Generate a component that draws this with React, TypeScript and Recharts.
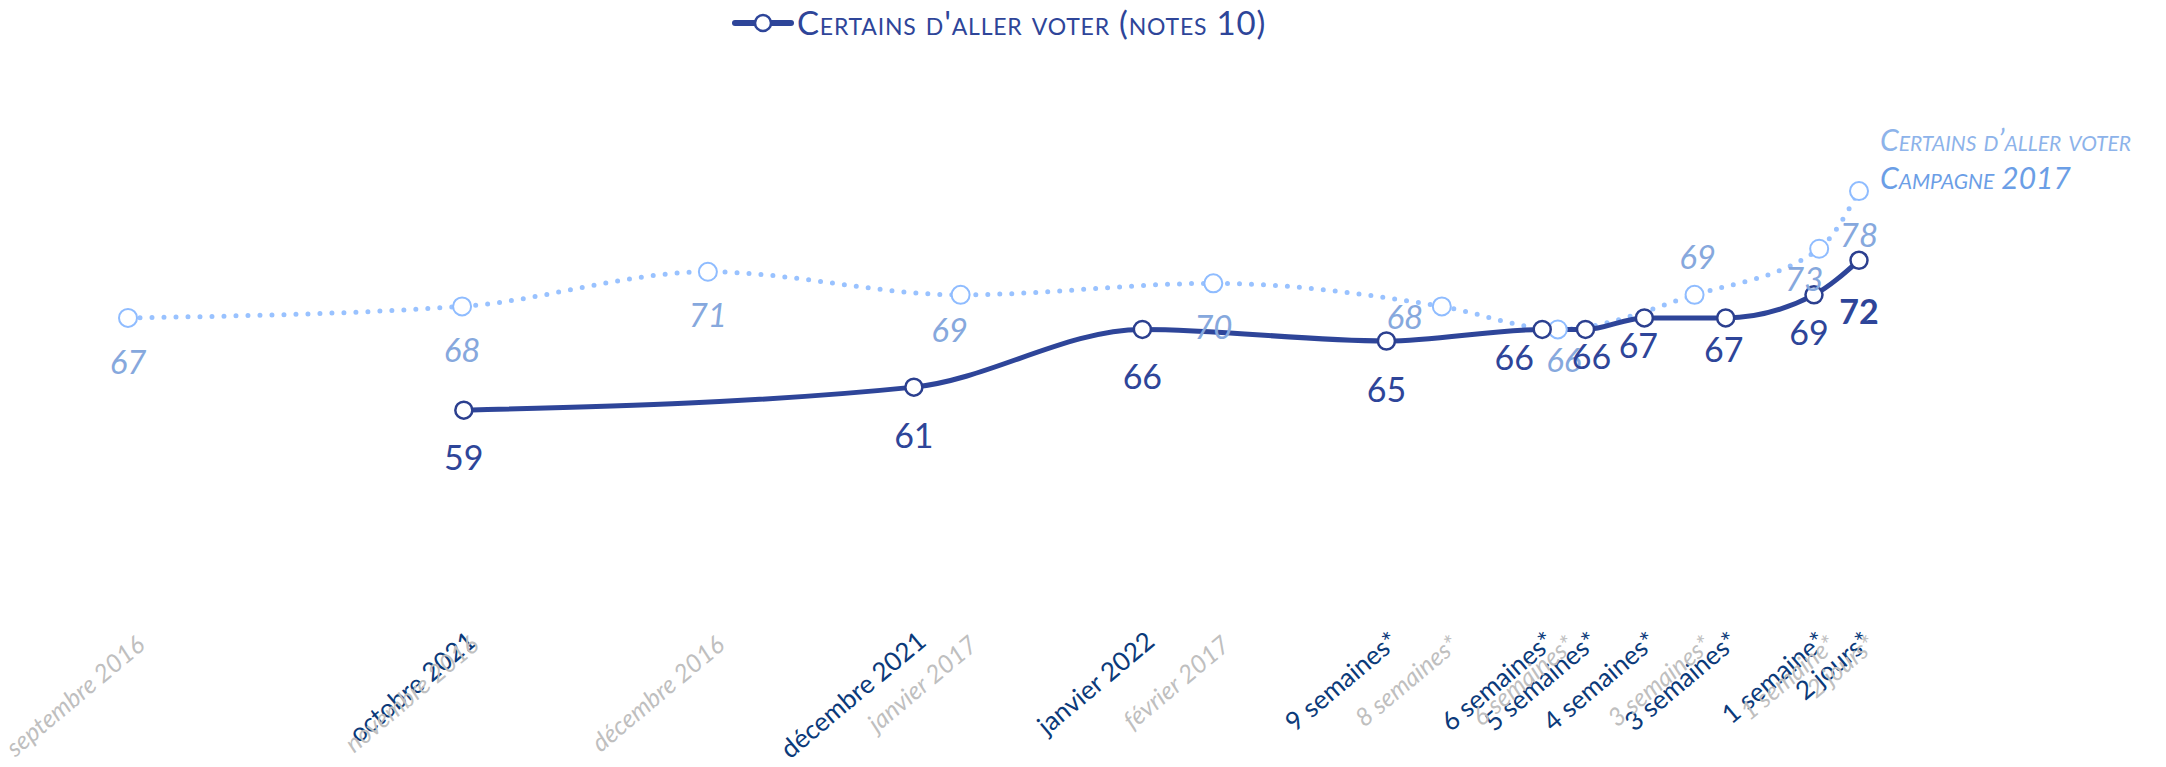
import React from "react";
import { LineChart, Line, XAxis, YAxis, LabelList, Customized } from "recharts";

// campagne 2017 (pointillés clairs)
const lightCategories = [
  "septembre 2016", "novembre 2016", "décembre 2016", "janvier 2017", "février 2017",
  "8 semaines*", "6 semaines*", "3 semaines*", "1 semaine*", "2 jours*",
];
const lightPositions = [0, 19.3, 33.5, 48.1, 62.7, 75.9, 82.6, 90.5, 97.7, 100];
const lightValues = [67, 68, 71, 69, 70, 68, 66, 69, 73, 78];

// campagne 2022 (trait plein)
const darkCategories = [
  "octobre 2021", "décembre 2021", "janvier 2022", "9 semaines*", "6 semaines*",
  "5 semaines*", "4 semaines*", "3 semaines*", "1 semaine*", "2 jours*",
];
const darkPositions = [19.4, 45.4, 58.6, 72.7, 81.7, 84.2, 87.6, 92.3, 97.4, 100];
const darkValues = [59, 61, 66, 65, 66, 66, 67, 67, 69, 72];

const lightData = lightPositions.map((pos, i) => ({ pos, v: lightValues[i] }));
const darkData = darkPositions.map((pos, i) => ({ pos, v: darkValues[i] }));

const FONT = "Lato, 'Open Sans', sans-serif";
const DARK = "#2e4599";
const LIGHT = "#99c2ff";

// label placement tweaks (dx, dy) around each point
const lightLabelOffsets = [
  [0, 43], [0, 43], [0, 42], [-11, 34], [0, 43], [-37, 10], [6, 30], [3, -39], [-15, 29], [0, 43],
];
const darkLabelOffsets = [
  [0, 46], [0, 47], [0, 46], [0, 47], [-28, 27], [6, 26], [-6, 27], [-2, 31], [-5, 37], [0, 50],
];

const pointXY = (p: any) => {
  const vb = p.viewBox || {};
  return { x: p.x ?? vb.x, y: p.y ?? vb.y };
};

const LightLabel = (p: any) => {
  const { x, y } = pointXY(p);
  const [dx, dy] = lightLabelOffsets[p.index] || [0, 43];
  return (
    <text x={x + dx} y={y + dy} textAnchor="middle" dominantBaseline="central"
      fill="#86a8dd" fontSize={33} fontStyle="italic" fontFamily={FONT}>
      {p.value}
    </text>
  );
};

const DarkLabel = (p: any) => {
  const { x, y } = pointXY(p);
  const [dx, dy] = darkLabelOffsets[p.index] || [0, 46];
  const last = p.index === darkValues.length - 1;
  return (
    <text x={x + dx} y={y + dy} textAnchor="middle" dominantBaseline="central"
      fill={DARK} fontSize={34} fontWeight={last ? 700 : 400} fontFamily={FONT}>
      {p.value}
    </text>
  );
};

const LightDot = (p: any) => (
  <circle key={`ld${p.index}`} cx={p.cx} cy={p.cy} r={9} fill="#fff" stroke="#8fbcff" strokeWidth={2} />
);
const DarkDot = (p: any) => (
  <circle key={`dd${p.index}`} cx={p.cx} cy={p.cy} r={8.5} fill="#fff" stroke="#2b3f8f" strokeWidth={2.5} />
);

const darkTickLabel = (v: number) => darkCategories[darkPositions.indexOf(v)];
const lightTickLabel = (v: number) => lightCategories[lightPositions.indexOf(v)];

const Annotations = () => (
  <g fontFamily={FONT}>
    {/* légende */}
    <line x1={727} y1={15} x2={783} y2={15} stroke={DARK} strokeWidth={6} strokeLinecap="round" />
    <circle cx={755} cy={15} r={8} fill="#fff" stroke={DARK} strokeWidth={2.5} />
    <text x={789} y={27} fill={DARK} fontSize={33} letterSpacing={0.8} style={{ fontVariant: "small-caps" }}>
      Certains d'aller voter (notes 10)
    </text>
    {/* repère campagne 2017 */}
    <text x={1872} y={143} fill="#8db3ea" fontSize={30} fontStyle="italic" style={{ fontVariant: "small-caps" }}>
      Certains d’aller voter
    </text>
    <text x={1872} y={181} fill="#6b9ee6" fontSize={30} fontStyle="italic" style={{ fontVariant: "small-caps" }}>
      Campagne 2017
    </text>
  </g>
);

export default function App() {
  return (
    <LineChart width={2150} height={751} margin={{ top: 160, right: 299, bottom: 0, left: 120 }}>
      <XAxis xAxisId="d" dataKey="pos" type="number" domain={[0, 100]} ticks={darkPositions}
        axisLine={false} tickLine={false} tickSize={0} tickMargin={0} height={120}
        interval={0} tickFormatter={darkTickLabel}
        tick={{ angle: -40, textAnchor: "end", dx: 2, dy: 116, fill: "#0b3a7a", fontSize: 26, fontFamily: FONT }} />
      <XAxis xAxisId="l" dataKey="pos" type="number" domain={[0, 100]} ticks={lightPositions}
        axisLine={false} tickLine={false} tickSize={0} tickMargin={0} height={125}
        interval={0} tickFormatter={lightTickLabel}
        tick={{ angle: -40, textAnchor: "end", dx: 7, dy: 0, fill: "#bfbfbf", fontSize: 25, fontStyle: "italic", fontFamily: FONT }} />
      <YAxis yAxisId="y" hide domain={[50, 80]} />
      <Line data={lightData} xAxisId="l" yAxisId="y" dataKey="v" type="monotone"
        stroke={LIGHT} strokeWidth={5} strokeDasharray="0 12" strokeLinecap="round"
        dot={LightDot} activeDot={false} isAnimationActive={false}>
        <LabelList dataKey="v" content={LightLabel} />
      </Line>
      <Line data={darkData} xAxisId="d" yAxisId="y" dataKey="v" type="monotone"
        stroke={DARK} strokeWidth={5} dot={DarkDot} activeDot={false} isAnimationActive={false}>
        <LabelList dataKey="v" content={DarkLabel} />
      </Line>
      <Customized component={Annotations} />
    </LineChart>
  );
}
